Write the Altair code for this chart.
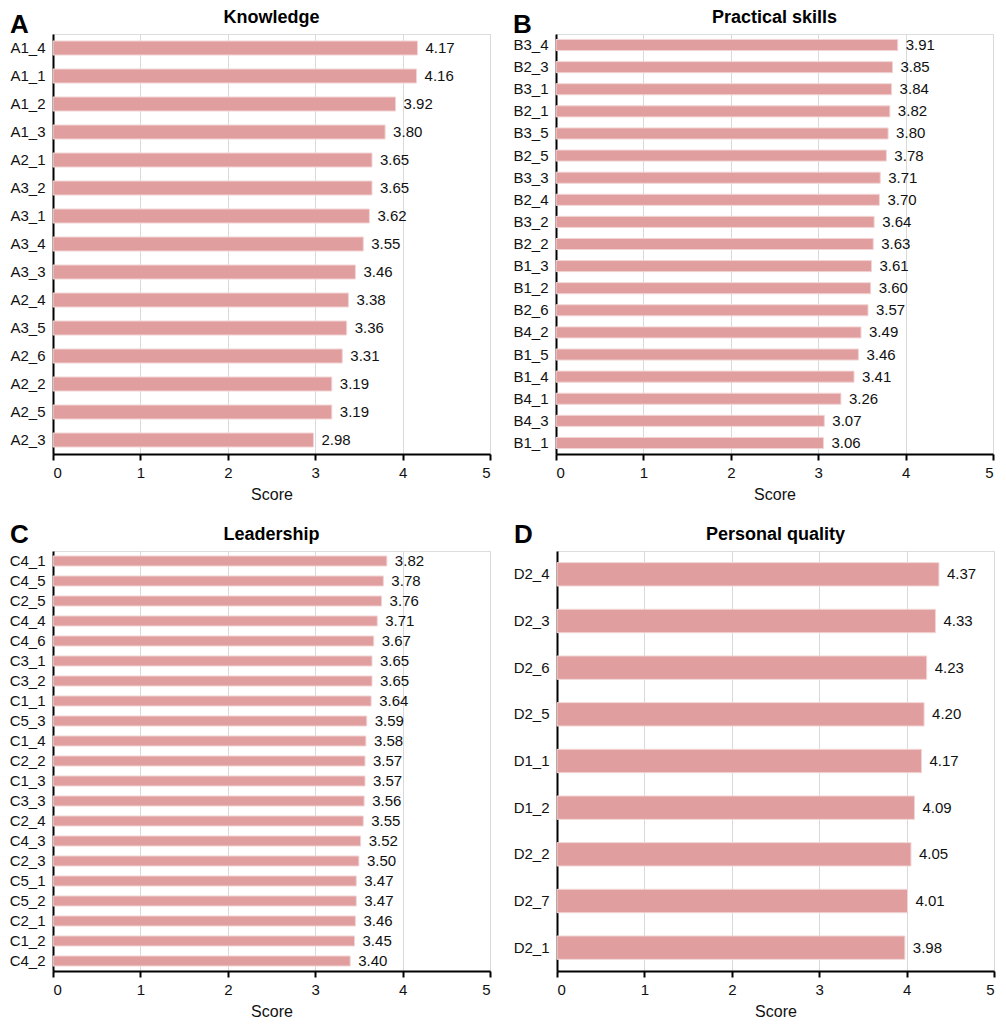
import altair as alt
import pandas as pd

FONT = "Liberation Sans, Arial, sans-serif"
BAR_FILL = "#E09E9E"
BAR_STROKE = "#F3D4D4"

# Panel A: Knowledge
a_items = ["A1_4", "A1_1", "A1_2", "A1_3", "A2_1", "A3_2", "A3_1", "A3_4",
           "A3_3", "A2_4", "A3_5", "A2_6", "A2_2", "A2_5", "A2_3"]
a_scores = [4.17, 4.16, 3.92, 3.80, 3.65, 3.65, 3.62, 3.55,
            3.46, 3.38, 3.36, 3.31, 3.19, 3.19, 2.98]

# Panel B: Practical skills
b_items = ["B3_4", "B2_3", "B3_1", "B2_1", "B3_5", "B2_5", "B3_3", "B2_4",
           "B3_2", "B2_2", "B1_3", "B1_2", "B2_6", "B4_2", "B1_5", "B1_4",
           "B4_1", "B4_3", "B1_1"]
b_scores = [3.91, 3.85, 3.84, 3.82, 3.80, 3.78, 3.71, 3.70,
            3.64, 3.63, 3.61, 3.60, 3.57, 3.49, 3.46, 3.41,
            3.26, 3.07, 3.06]

# Panel C: Leadership
c_items = ["C4_1", "C4_5", "C2_5", "C4_4", "C4_6", "C3_1", "C3_2", "C1_1",
           "C5_3", "C1_4", "C2_2", "C1_3", "C3_3", "C2_4", "C4_3", "C2_3",
           "C5_1", "C5_2", "C2_1", "C1_2", "C4_2"]
c_scores = [3.82, 3.78, 3.76, 3.71, 3.67, 3.65, 3.65, 3.64,
            3.59, 3.58, 3.57, 3.57, 3.56, 3.55, 3.52, 3.50,
            3.47, 3.47, 3.46, 3.45, 3.40]

# Panel D: Personal quality
d_items = ["D2_4", "D2_3", "D2_6", "D2_5", "D1_1", "D1_2", "D2_2", "D2_7", "D2_1"]
d_scores = [4.37, 4.33, 4.23, 4.20, 4.17, 4.09, 4.05, 4.01, 3.98]

x_ticks = [0, 1, 2, 3, 4, 5]

W = 437
H = 420


def panel(letter, title, items, scores, letter_y):
    df = pd.DataFrame({"item": items, "score": scores})
    y_enc = alt.Y(
        "item:N",
        sort=items,
        scale=alt.Scale(paddingInner=0.5, paddingOuter=0.25),
        axis=alt.Axis(
            title=None, ticks=False, grid=False, domain=True,
            domainColor="black", domainWidth=2,
            labelFont=FONT, labelFontSize=15, labelColor="#111111",
            labelPadding=8,
        ),
    )
    x_enc = alt.X(
        "score:Q",
        scale=alt.Scale(domain=[0, 5], nice=False),
        axis=alt.Axis(
            title="Score", values=x_ticks, format="d",
            grid=True, gridColor="#D9D9D9", gridWidth=1,
            domainColor="black", domainWidth=2,
            ticks=True, tickColor="black", tickWidth=2, tickSize=6,
            labelFont=FONT, labelFontSize=15, labelColor="#111111",
            labelPadding=5,
            titleFont=FONT, titleFontSize=16, titleFontWeight="normal",
            titleColor="#111111", titlePadding=6,
        ),
    )
    base = alt.Chart(df)
    bars = base.mark_bar(fill=BAR_FILL, stroke=BAR_STROKE, strokeWidth=1).encode(
        x=x_enc, y=y_enc
    )
    labels = base.mark_text(
        align="left", baseline="middle", dx=8,
        font=FONT, fontSize=15, color="#111111",
    ).encode(
        x="score:Q",
        y=alt.Y("item:N", sort=items),
        text=alt.Text("score:Q", format=".2f"),
    )
    tag = alt.Chart(pd.DataFrame({"t": [letter]})).mark_text(
        align="left", baseline="alphabetic",
        font=FONT, fontSize=26, fontWeight="bold", color="black",
    ).encode(
        text="t:N",
        x=alt.value(-43),
        y=alt.value(letter_y),
    )
    head = alt.Chart(pd.DataFrame({"t": [title]})).mark_text(
        align="center", baseline="alphabetic",
        font=FONT, fontSize=18, fontWeight="bold", color="black",
    ).encode(
        text="t:N",
        x=alt.value(W / 2),
        y=alt.value(-11),
    )
    return alt.layer(bars, labels, tag, head).properties(width=W, height=H)


pa = panel("A", "Knowledge", a_items, a_scores, -1)
pb = panel("B", "Practical skills", b_items, b_scores, -1)
pc = panel("C", "Leadership", c_items, c_scores, -8)
pd_ = panel("D", "Personal quality", d_items, d_scores, -8)

chart = alt.vconcat(
    alt.hconcat(pa, pb, spacing=20),
    alt.hconcat(pc, pd_, spacing=20),
    spacing=18,
).properties(padding=0).configure_view(stroke=None).configure(background="white")

chart.save("out.html", embed_options={"renderer": "svg", "actions": False})
